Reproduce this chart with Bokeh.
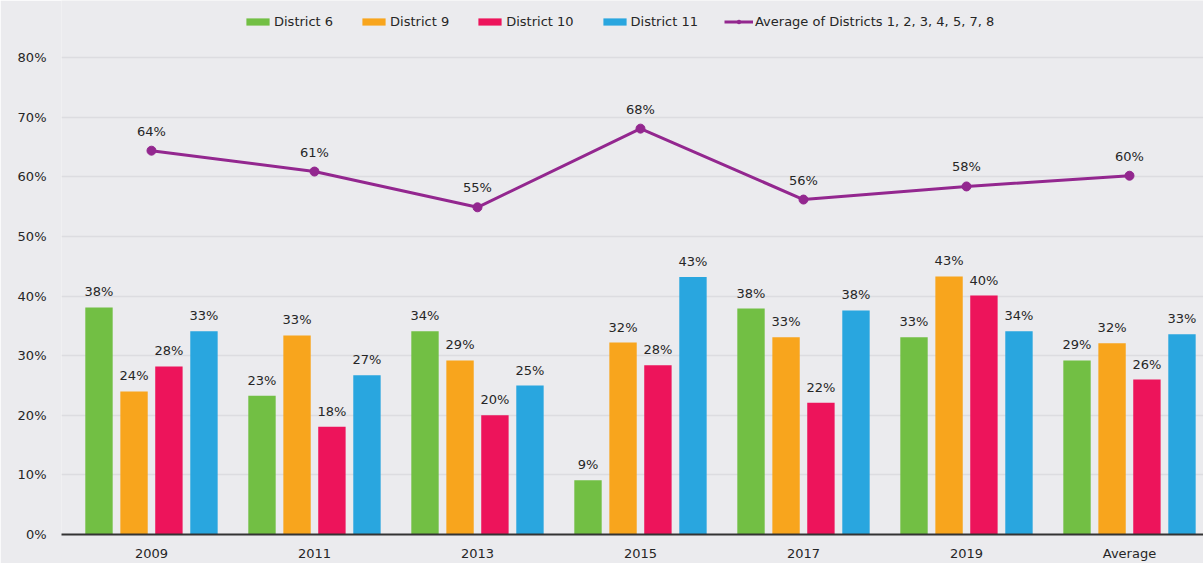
import numpy as np
from bokeh.plotting import figure
from bokeh.models import ColumnDataSource, Range1d, FixedTicker, PrintfTickFormatter, Legend, LegendItem
from bokeh.core.properties import value
from bokeh.embed import file_html
from bokeh.resources import INLINE

categories = ["2009", "2011", "2013", "2015", "2017", "2019", "Average"]
district6 = [38.1, 23.3, 34.1, 9.1, 37.9, 33.1, 29.2]
district9 = [24.0, 33.4, 29.2, 32.2, 33.1, 43.3, 32.1]
district10 = [28.2, 18.1, 20.0, 28.4, 22.1, 40.1, 26.0]
district11 = [34.1, 26.7, 25.0, 43.2, 37.6, 34.1, 33.6]
avg_others = [64.4, 60.9, 54.9, 68.1, 56.2, 58.4, 60.2]
labels6 = ["38%", "23%", "34%", "9%", "38%", "33%", "29%"]
labels9 = ["24%", "33%", "29%", "32%", "33%", "43%", "32%"]
labels10 = ["28%", "18%", "20%", "28%", "22%", "40%", "26%"]
labels11 = ["33%", "27%", "25%", "43%", "38%", "34%", "33%"]
labels_avg = ["64%", "61%", "55%", "68%", "56%", "58%", "60%"]
y_ticks = [0, 10, 20, 30, 40, 50, 60, 70, 80]

FONT = "DejaVu Sans"
BG = "#EBEBEE"
TXT = "#262626"

series = [
    ("District 6", district6, labels6, "#72BF44", -0.322),
    ("District 9", district9, labels9, "#F8A51D", -0.107),
    ("District 10", district10, labels10, "#ED145B", 0.107),
    ("District 11", district11, labels11, "#29A6DF", 0.322),
]

p = figure(width=1203, height=563, output_backend="svg", toolbar_location=None,
           x_range=Range1d(-0.552, 6.454), y_range=Range1d(0, 89.6),
           min_border_left=61, min_border_right=0, min_border_top=0, min_border_bottom=29,
           background_fill_color=BG, border_fill_color=BG)
p.outline_line_color = None

xs = np.arange(len(categories))
items = []
for name, vals, labs, color, off in series:
    src = ColumnDataSource(dict(x=xs + off, top=vals, lab=labs))
    r = p.vbar(x="x", top="top", width=0.168, bottom=0, source=src,
               fill_color=color, line_color=None)
    p.text(x="x", y="top", text="lab", source=src, text_align="center",
           text_baseline="bottom", y_offset=-8, text_font=value(FONT),
           text_font_size="13px", text_color=TXT)
    items.append(LegendItem(label=name, renderers=[r]))

lsrc = ColumnDataSource(dict(x=xs, y=avg_others, lab=labels_avg))
lr = p.line(x="x", y="y", source=lsrc, line_color="#93278F", line_width=3)
sr = p.scatter(x="x", y="y", source=lsrc, size=9, fill_color="#93278F", line_color="#93278F")
p.text(x="x", y="y", text="lab", source=lsrc, text_align="center",
       text_baseline="bottom", y_offset=-12, text_font=value(FONT),
       text_font_size="13px", text_color=TXT)
items.append(LegendItem(label="Average of Districts 1, 2, 3, 4, 5, 7, 8", renderers=[lr, sr]))

legend = Legend(items=items, orientation="horizontal", location=(182, 505),
                background_fill_alpha=0, border_line_color=None,
                label_text_font=FONT, label_text_font_size="13px", label_text_color=TXT,
                glyph_width=29, glyph_height=9, label_standoff=2, spacing=26,
                label_height=14, padding=5, margin=0)
p.add_layout(legend, "center")

p.xaxis.ticker = FixedTicker(ticks=list(xs))
p.xaxis.major_label_overrides = {int(i): c for i, c in zip(xs, categories)}
p.xaxis.major_tick_line_color = None
p.xaxis.major_tick_out = 0
p.xaxis.major_tick_in = 0
p.xaxis.minor_tick_line_color = None
p.xaxis.axis_line_color = "#333333"
p.xaxis.axis_line_width = 2
p.xaxis.major_label_standoff = 11
p.xaxis.major_label_text_font = FONT
p.xaxis.major_label_text_font_size = "13px"
p.xaxis.major_label_text_color = TXT

p.yaxis.ticker = FixedTicker(ticks=y_ticks)
p.yaxis.formatter = PrintfTickFormatter(format="%d%%")
p.yaxis.major_tick_line_color = None
p.yaxis.major_tick_out = 0
p.yaxis.major_tick_in = 0
p.yaxis.minor_tick_line_color = None
p.yaxis.axis_line_color = None
p.yaxis.major_label_standoff = 15
p.yaxis.major_label_text_font = FONT
p.yaxis.major_label_text_font_size = "13px"
p.yaxis.major_label_text_color = TXT

p.xgrid.grid_line_color = None
p.ygrid.grid_line_color = "#DCDCE0"
p.ygrid.grid_line_width = 1.5
p.ygrid.ticker = FixedTicker(ticks=y_ticks[1:])

open("out.html", "w").write(file_html(p, INLINE))
